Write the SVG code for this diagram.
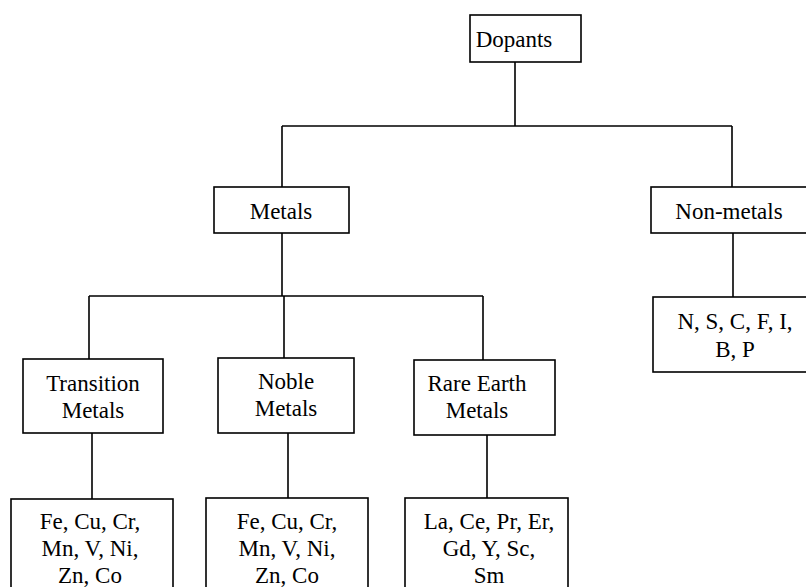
<svg xmlns="http://www.w3.org/2000/svg" width="806" height="587" viewBox="0 0 806 587">
<style>
.box{fill:#fff;stroke:#000;stroke-width:1.6}
.ln{fill:none;stroke:#000;stroke-width:1.6}
text{font-family:"Liberation Serif","Times New Roman",serif;font-size:23px;fill:#000;text-anchor:middle}
</style>
<rect width="806" height="587" fill="#fff"/>
<g id="connectors">
<path class="ln" d="M515 62V126M282 126H732M282 126V187M732 126V187"/>
<path class="ln" d="M282 233V296M89 296H483M89 296V359M284 296V358M483 296V360"/>
<path class="ln" d="M733 233V297"/>
<path class="ln" d="M92 433V499M288 433V498M487 435V498"/>
</g>
<g id="dopants"><rect class="box" x="470" y="15" width="111" height="47"/><text x="514" y="47">Dopants</text></g>
<g id="metals"><rect class="box" x="214" y="187" width="135" height="46"/><text x="281" y="219">Metals</text></g>
<g id="nonmetals"><rect class="box" x="651" y="187" width="160" height="46"/><text x="729" y="219">Non-metals</text></g>
<g id="transition"><rect class="box" x="23" y="359" width="140" height="74"/><text x="93" y="391">Transition</text><text x="93" y="418">Metals</text></g>
<g id="noble"><rect class="box" x="218" y="358" width="136" height="75"/><text x="286" y="389">Noble</text><text x="286" y="416">Metals</text></g>
<g id="rare"><rect class="box" x="414" y="360" width="141" height="75"/><text x="477" y="391">Rare Earth</text><text x="477" y="418">Metals</text></g>
<g id="nonmetal-list"><rect class="box" x="653" y="297" width="160" height="75"/><text x="735" y="329">N, S, C, F, I,</text><text x="735" y="357">B, P</text></g>
<g id="transition-list"><rect class="box" x="11" y="499" width="162" height="100"/><text x="90" y="529">Fe, Cu, Cr,</text><text x="90" y="556">Mn, V, Ni,</text><text x="90" y="583">Zn, Co</text></g>
<g id="noble-list"><rect class="box" x="206" y="498" width="162" height="100"/><text x="287" y="529">Fe, Cu, Cr,</text><text x="287" y="556">Mn, V, Ni,</text><text x="287" y="583">Zn, Co</text></g>
<g id="rare-list"><rect class="box" x="405" y="498" width="163" height="100"/><text x="489" y="529">La, Ce, Pr, Er,</text><text x="489" y="556">Gd, Y, Sc,</text><text x="489" y="583">Sm</text></g>
</svg>
